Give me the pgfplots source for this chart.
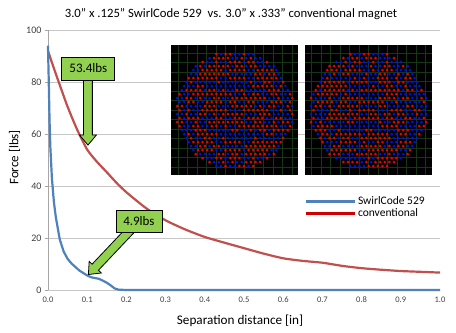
\documentclass[border=0pt]{standalone}
\usepackage{pgfplots}
\pgfplotsset{compat=1.18}
\usepackage{fontspec}
\setmainfont{Carlito}
\usetikzlibrary{shapes.arrows}
\definecolor{xlblue}{HTML}{4F81BD}
\definecolor{xlred}{HTML}{C0504D}
\definecolor{calgreen}{HTML}{92D050}
\definecolor{gridgreen}{HTML}{163616}
\definecolor{dotred}{HTML}{E80000}
\definecolor{dotblue}{HTML}{0010E8}

\newcommand\magnet[2]{%
 \begin{scope}[shift={(#1)}]
  \fill[black] (-63.5pt,-65pt) rectangle (63.5pt,65pt);
  \foreach \g in {-6,...,6} {
    \draw[gridgreen, line width=0.5pt] (\g*9.5pt,-65pt) -- (\g*9.5pt,65pt);
    \draw[gridgreen, line width=0.5pt] (-63.5pt,\g*9.5pt) -- (63.5pt,\g*9.5pt);
  }
  \foreach \j in {-14,...,14} {
    \foreach \i in {-14,...,14} {
      \pgfmathsetmacro\xx{(\i+0.5*abs(mod(\j,2)))*4.6}
      \pgfmathsetmacro\yy{\j*4.0}
      \pgfmathsetmacro\rr{sqrt(\xx*\xx+\yy*\yy)}
      \pgfmathtruncatemacro\cc{mod(floor(1000*abs(sin(\i*12.9898+\j*78.233+#2*37.7))),10)}
      \ifdim\rr pt<59pt
        \ifnum\cc<5 \fill[dotblue] (\xx pt,\yy pt) circle (1.5pt);
        \else \fill[dotred] (\xx pt,\yy pt) circle (1.5pt);\fi
      \fi
    }
  }
 \end{scope}
}

\begin{document}
\begin{tikzpicture}
\begin{axis}[
  scale only axis, width=392pt, height=260pt,
  xmin=0, xmax=1, ymin=0, ymax=100,
  xtick={0,0.1,0.2,0.3,0.4,0.5,0.6,0.7,0.8,0.9,1.0},
  ytick={0,20,40,60,80,100},
  ymajorgrids, grid style={gray!45, line width=0.6pt},
  axis x line*=bottom, axis y line*=left,
  axis line style={gray!70},
  x axis line style={draw=none},
  xtick style={draw=none},
  ytick style={gray!70},
  major tick length=3pt,
  tick align=outside,
  clip=false,
  /pgf/number format/assume math mode=true,
  xticklabel style={font=\fontsize{8.5}{9}\selectfont, text=black!75, /pgf/number format/.cd, fixed, fixed zerofill, precision=1},
  yticklabel style={font=\fontsize{10}{11}\selectfont, text=black!75},
  legend style={at={(rel axis cs:0.65,0.37)}, anchor=north west, draw=none, fill=none,
     font=\fontsize{11.5}{12}\selectfont, row sep=-2pt, inner sep=1pt},
  legend cell align=left,
  legend image code/.code={\draw[#1, line width=3pt] (0pt,0pt) -- (49pt,0pt);},
]
\coordinate (bl) at (rel axis cs:-0.1224,-0.1615);
\coordinate (tr) at (rel axis cs:1.0408,1.1154);
\coordinate (m1) at (axis cs:0.4765,69.2);
\coordinate (m2) at (axis cs:0.818,69.2);

\addplot[xlred, line width=2.2pt, smooth, tension=0.4, forget plot] coordinates {
(0,92) (0.01,87.5) (0.025,81) (0.05,70.5) (0.075,61.5) (0.1,54) (0.125,49.3) (0.15,45.3)
(0.175,41.2) (0.2,37.6) (0.25,31.5) (0.3,26.8) (0.35,23.3) (0.4,20.4) (0.45,18.2) (0.5,16.1)
(0.55,14) (0.6,12.2) (0.65,11.2) (0.7,10.5) (0.75,9.3) (0.8,8.4) (0.85,7.8) (0.9,7.3)
(0.95,7.0) (1.0,6.7)};
\addplot[xlblue, line width=2.2pt, forget plot] coordinates {
(0,94) (0.002,80) (0.004,65) (0.006,55) (0.01,43) (0.015,34) (0.02,28) (0.03,19.5)
(0.04,14.8) (0.05,12) (0.06,10.2) (0.08,7.5) (0.1,5.6) (0.11,4.9) (0.12,4.6) (0.13,4.3)
(0.14,3.6) (0.15,2.8) (0.16,1.8) (0.17,0.6) (0.18,0.15) (0.2,0) (1.0,0)};
\addlegendimage{xlblue}
\addlegendentry{SwirlCode 529}
\addlegendimage{red!82!black}
\addlegendentry{conventional}

% callouts
\node[single arrow, draw=black, fill=calgreen, line width=0.8pt, inner sep=4pt,
  minimum height=80pt, single arrow head extend=4pt, single arrow tip angle=80,
  rotate=-90, anchor=tip] at (axis cs:0.102,55.5) {};
\node[draw=black, fill=calgreen, line width=0.8pt, minimum width=53pt, minimum height=23pt,
  inner sep=0pt, font=\fontsize{13}{14}\selectfont] at (axis cs:0.103,85.2) {53.4lbs};
\node[single arrow, draw=black, fill=calgreen, line width=0.8pt, inner sep=4pt,
  minimum height=74pt, single arrow head extend=4pt, single arrow tip angle=80,
  rotate=226.6, anchor=tip] at (axis cs:0.102,5.8) {};
\node[draw=black, fill=calgreen, line width=0.8pt, minimum width=46pt, minimum height=22pt,
  inner sep=0pt, font=\fontsize{13}{14}\selectfont] at (axis cs:0.232,26.5) {4.9lbs};

% titles and labels
\node[font=\fontsize{12.7}{14}\selectfont, anchor=center] at (rel axis cs:0.467,1.0615)
  {3.0" x .125" SwirlCode 529\ \ vs. 3.0” x .333” conventional magnet};
\node[font=\fontsize{13.2}{14}\selectfont] at (rel axis cs:0.49,-0.117) {Separation distance [in]};
\node[font=\fontsize{13}{14}\selectfont, rotate=90] at (rel axis cs:-0.085,0.51) {Force [lbs]};
\end{axis}
\magnet{m1}{0}
\magnet{m2}{2}
\pgfresetboundingbox
\path[use as bounding box] (bl) rectangle (tr);
\end{tikzpicture}
\end{document}
